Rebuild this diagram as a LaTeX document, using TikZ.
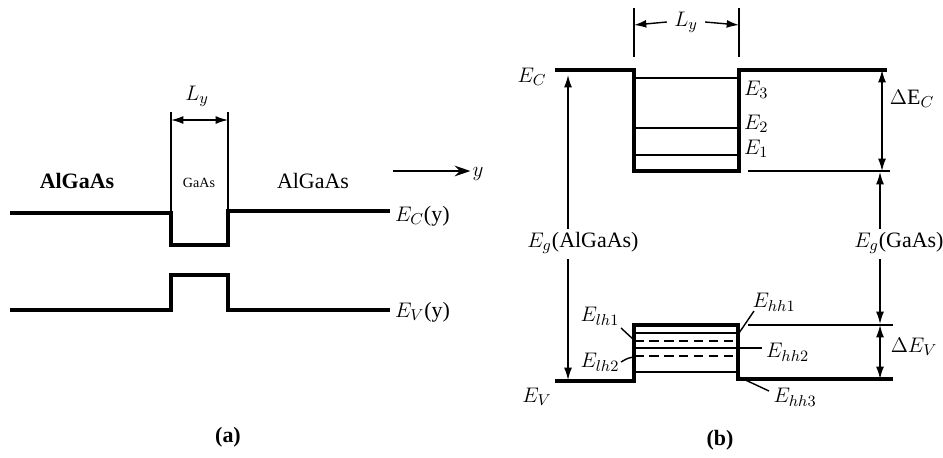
\documentclass[tikz,border=0pt]{standalone}
\usepackage{fontspec}
\setmainfont{Liberation Serif}
\usetikzlibrary{arrows.meta, positioning}

\begin{document}
\begin{tikzpicture}[x=0.02cm, y=-0.02cm,
  band/.style={line width=2pt},
  lev/.style={line width=0.8pt},
  dashlev/.style={line width=0.8pt, dash pattern=on 5.5pt off 3pt},
  arr/.style={line width=0.8pt, -{Latex[length=7pt, width=4.5pt]}},
  dimarr/.style={line width=0.8pt, {Latex[length=7pt, width=4.5pt]}-{Latex[length=7pt, width=4.5pt]}},
  txt/.style={font=\fontsize{12.5}{14}\selectfont, inner sep=1pt}
]
\useasboundingbox (0,0) rectangle (943,457);

% (a) band edges along y
\draw[band] (10,213) -- (171,213) -- (171,245) -- (228,245) -- (228,211) -- (390,211);
\draw[band] (10,310) -- (171,310) -- (171,275) -- (228,275) -- (228,310) -- (390,310);
\draw[lev] (171,112) -- (171,213);
\draw[lev] (228,112) -- (228,211);
\draw[dimarr] (171,120) -- (228,120);
\node[txt] (lya) at (197,96) {$L_y$};

\node[txt, font=\fontsize{12.5}{14}\selectfont\bfseries] (algaasl) at (77,181) {AlGaAs};
\node[txt, font=\footnotesize] (gaas) at (199,183) {GaAs};
\node[txt] (algaasr) at (313,181) {AlGaAs};
\node[txt] (yax) at (478,174) {$y$};
\coordinate (ystart) at (393,171);
\draw[line width=1.5pt, -{Stealth[length=9pt, width=6pt]}] (ystart) -- (ystart -| yax.west);
\node[txt, anchor=west] (eca) at (393,216) {$E_C$(y)};
\node[txt, anchor=west] (eva) at (393,312) {$E_V$(y)};
\node[txt, font=\fontsize{12.5}{14}\selectfont\bfseries] (capa) at (228,437) {(a)};

% (b) conduction band well
\draw[band] (555,70) -- (634,70) -- (634,171) -- (739,171) -- (739,70) -- (887,70);
\draw[lev] (634,78) -- (739,78);
\draw[lev] (634,128) -- (739,128);
\draw[lev] (634,155) -- (739,155);
\node[txt, anchor=west] (e3) at (742,90) {$E_3$};
\node[txt, anchor=west] (e2) at (742,124) {$E_2$};
\node[txt, anchor=west] (e1) at (742,149) {$E_1$};
\node[txt] (ecb) at (532,77) {$E_C$};

% well width
\draw[lev] (634,8) -- (634,57);
\draw[lev] (739,8) -- (739,57);
\node[txt] (lyb) at (686,22) {$L_y$};
\draw[arr] (lyb.west) ++(-3pt,0) -- (634,25);
\draw[arr] (lyb.east) ++(3pt,0) -- (739,25);

% conduction band offset
\draw[lev] (748,171) -- (890,171);
\draw[dimarr] (882,70) -- (882,171);
\node[txt] (dec) at (912,99) {$\Delta\mathrm{E}_C$};

% band gaps
\node[txt] (egalgaas) at (583,243) {$E_g$(AlGaAs)};
\node[txt] (eggaas) at (899,243) {$E_g$(GaAs)};
\draw[arr] (568,229) -- (568,75);
\draw[arr] (568,259) -- (568,380);
\draw[arr] (880,229) -- (880,172);
\draw[arr] (880,259) -- (880,324);

% (b) valence band well
\draw[band] (555,381) -- (634,381) -- (634,325) -- (738,325) -- (738,379) -- (893,379);
\draw[lev] (634,333) -- (738,333);
\draw[dashlev] (634,341) -- (738,341);
\draw[lev] (634,348) -- (762,348);
\draw[dashlev] (634,356) -- (738,356);
\draw[lev] (634,372) -- (738,372);
\draw[lev] (748,325) -- (893,325);
\draw[dimarr] (880,325) -- (880,379);
\node[txt] (dev) at (914,347) {$\Delta E_V$};
\node[txt] (evb) at (537,397) {$E_V$};

% level labels
\node[txt] (elh1) at (600,316) {$E_{lh1}$};
\node[txt] (elh2) at (600,362) {$E_{lh2}$};
\node[txt] (ehh1) at (774,302) {$E_{hh1}$};
\node[txt, anchor=west] (ehh2) at (764,352) {$E_{hh2}$};
\node[txt] (ehh3) at (795,397) {$E_{hh3}$};
\draw[lev] (621,328) -- (634,340);
\draw[lev] (621,362) .. controls (628,358) .. (634,357);
\draw[lev] (754,311) -- (739,333);
\draw[lev] (769,391) -- (739,377);

\node[txt, font=\fontsize{12.5}{14}\selectfont\bfseries] (capb) at (720,440) {(b)};
\end{tikzpicture}
\end{document}
